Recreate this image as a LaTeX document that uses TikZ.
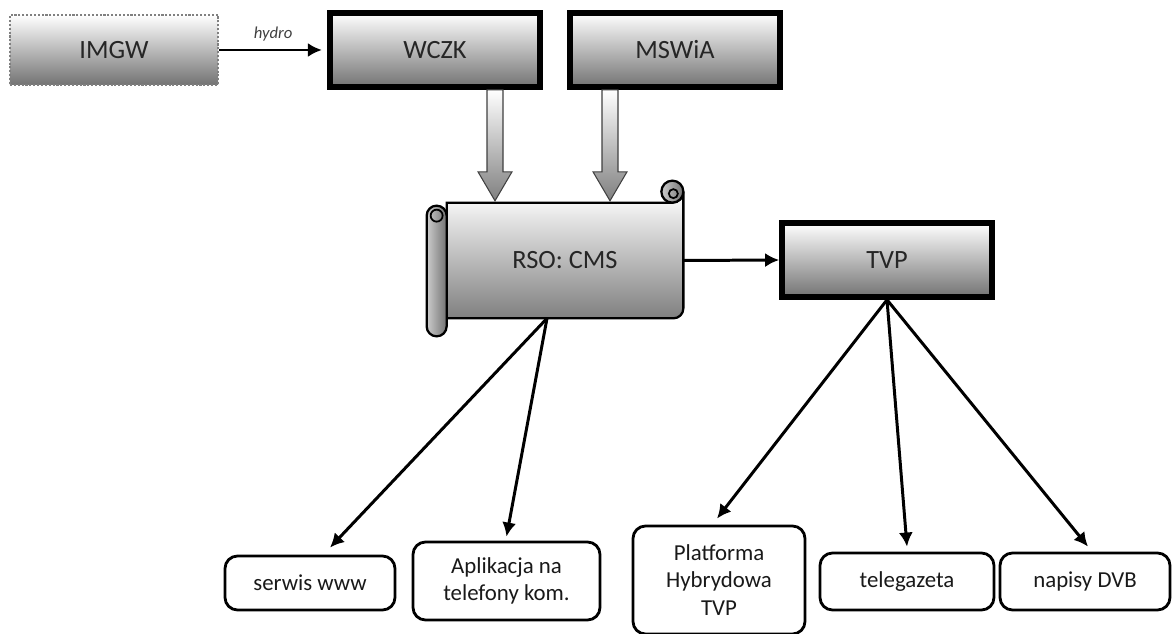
\documentclass[tikz,border=0pt]{standalone}
\usepackage{fontspec}
\setmainfont{Carlito}
\usetikzlibrary{positioning,arrows.meta,calc,backgrounds}

\tikzset{
  topbox/.style={draw=black, line width=3.2pt, top color=white, bottom color=black!55,
    minimum width=4.2cm, minimum height=1.48cm, font=\fontsize{15}{17}\selectfont, text=black!85},
  srcbox/.style={topbox, draw=gray, line width=1.2pt, densely dotted,
    minimum width=4.16cm, minimum height=1.4cm},
  scrollbox/.style={minimum width=4.72cm, minimum height=2.3cm,
    font=\fontsize{15}{17}\selectfont, text=black!85},
  scrollbody/.style={draw, line width=1.3pt, top color=white, bottom color=black!50},
  rollpart/.style={draw, line width=1.3pt, left color=black!20, right color=black!55},
  outbox/.style={draw, line width=1.6pt, rounded corners=0.25cm, fill=white, align=center,
    font=\fontsize{13}{15.5}\selectfont, text=black!90},
  link/.style={line width=1.7pt, -{Latex[length=8pt,width=8pt]}},
  bigarrow/.style={draw=black!75, line width=0.6pt, top color=white, bottom color=black!50},
}

\begin{document}
\begin{tikzpicture}
  \useasboundingbox (0,0) rectangle (23.44,-12.68);

  % sources
  \node[srcbox] (imgw) at (2.28,-1.0) {IMGW};
  \node[topbox] (wczk) at (8.7,-1.0) {WCZK};
  \node[topbox] (mswia) at (13.5,-1.0) {MSWiA};
  \draw[link, shorten >=3pt] (imgw) -- node[above=1pt, font=\itshape\fontsize{9.5}{11}\selectfont, text=black!75] (hydrolbl) {hydro} (wczk);

  % RSO scroll
  \node[scrollbox] (rso) at (11.3,-5.21) {RSO: CMS};
  \begin{scope}[on background layer]
    \path[scrollbody] (rso.south west) -- (rso.north west) -- ($(rso.north east)+(-0.22,0)$)
      arc[start angle=-90, end angle=0, radius=0.22] -- ($(rso.south east)+(0,0.2)$)
      arc[start angle=0, end angle=-90, radius=0.2] -- cycle;
  \end{scope}
  \draw[rollpart, rounded corners=0.2cm] ($(rso.north west)+(-0.4,-0.06)$) rectangle ($(rso.south west)+(0,-0.36)$);
  \draw[line width=1pt] ($(rso.north west)+(-0.2,-0.26)$) circle (0.12);
  \draw[rollpart] ($(rso.north east)+(-0.22,0.22)$) circle (0.22);
  \draw[line width=1pt] ($(rso.north east)+(-0.2,0.18)$) circle (0.09);

  % block arrows into RSO
  \foreach \src/\dx in {wczk/1.2, mswia/-1.3}
    \path[bigarrow] ($(\src.south)+(\dx,0)$) ++(-0.16,0) -- ++(0.32,0) -- ++(0,-1.64)
      -- ++(0.18,0) -- ++(-0.34,-0.58) -- ++(-0.34,0.58) -- ++(0.18,0) -- cycle;

  \node[topbox] (tvp) at (17.74,-5.2) {TVP};
  \draw[link] (rso.east) -- (tvp.west);

  % outputs
  \node[outbox, minimum width=3.4cm, minimum height=1.08cm] (www) at (6.2,-11.66) {serwis www};
  \node[outbox, minimum width=3.74cm, minimum height=1.56cm] (app) at (10.13,-11.62) {Aplikacja na\\telefony kom.};
  \node[outbox, minimum width=3.44cm, minimum height=2.16cm] (hbb) at (14.38,-11.6) {Platforma\\Hybrydowa\\TVP};
  \node[outbox, minimum width=3.48cm, minimum height=1.14cm] (tele) at (18.14,-11.63) {telegazeta};
  \node[outbox, minimum width=3.4cm, minimum height=1.14cm] (dvb) at (21.7,-11.63) {napisy DVB};

  \coordinate (rsoout) at ($(rso.south)+(-0.36,0)$);
  \draw[link] (rsoout) -- ($(www.north)+(0.4,0.14)$);
  \draw[link] (rsoout) -- ($(app.north)+(0,0.08)$);
  \draw[link] (tvp.south) -- ($(hbb.north)+(-0.04,0.12)$);
  \draw[link] (tvp.south) -- ($(tele.north)+(0,0.1)$);
  \draw[link] (tvp.south) -- ($(dvb.north)+(0.06,0.1)$);
\end{tikzpicture}
\end{document}
